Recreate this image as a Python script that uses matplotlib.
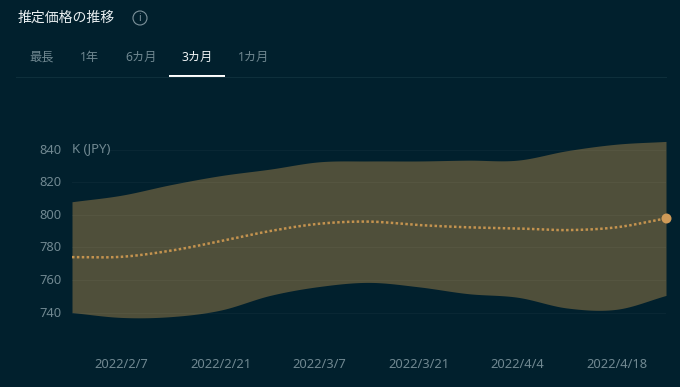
import numpy as np
import pandas as pd
import matplotlib
matplotlib.use("Agg")
import matplotlib.pyplot as plt
import matplotlib.dates as mdates
from matplotlib.patches import Circle, Rectangle
from matplotlib.transforms import ScaledTranslation

plt.rcParams['font.family'] = ['Noto Sans', 'Noto Sans CJK JP', 'DejaVu Sans']

title = "推定価格の推移"
tabs = ["最長", "1年", "6カ月", "3カ月", "1カ月"]
active_tab = "3カ月"
unit = "K (JPY)"
dates = pd.date_range("2022-01-31", "2022-04-25", freq="7D")
upper = [808, 812, 818.5, 824, 828, 832.5, 833, 833, 833.5, 833.5, 839.3, 843.3, 845]
lower = [740, 737, 737.5, 741.5, 750.5, 756, 758.5, 755.8, 751.6, 749.4, 742.8, 742, 750.5]
median = [774, 774.2, 778, 783.8, 790, 794.5, 795.8, 793.7, 792.3, 791.6, 790.6, 792.3, 797.8]
y_ticks = [740, 760, 780, 800, 820, 840]
x_ticks = ["2022-02-07", "2022-02-21", "2022-03-07", "2022-03-21", "2022-04-04", "2022-04-18"]


def smooth(x, y, n=24):
    """Catmull-Rom curve through the read points (drawing only)."""
    x = np.asarray(x, float)
    y = np.asarray(y, float)
    p = np.r_[2 * y[0] - y[1], y, 2 * y[-1] - y[-2]]
    xs, ys = [], []
    for i in range(len(y) - 1):
        t = np.linspace(0, 1, n, endpoint=False)
        a, b, c, d = p[i], p[i + 1], p[i + 2], p[i + 3]
        ys.append(0.5 * (2 * b + (c - a) * t + (2 * a - 5 * b + 4 * c - d) * t ** 2 + (3 * b - a - 3 * c + d) * t ** 3))
        xs.append(x[i] + (x[i + 1] - x[i]) * t)
    return np.r_[np.concatenate(xs), x[-1]], np.r_[np.concatenate(ys), y[-1]]


BG = "#01202d"
FILL = "#4f4f3a"
GOLD = "#c4934f"
MUTED = "#708891"
W, H = 680, 387

fig = plt.figure(figsize=(W / 100, H / 100), dpi=100, facecolor=BG)

# page furniture, in pixel coordinates
ui = fig.add_axes([0, 0, 1, 1], zorder=0)
ui.set_xlim(0, W)
ui.set_ylim(H, 0)
ui.axis("off")
ui.text(18, 18, title, color="#e8eef0", fontsize=10, va="center", ha="left")
ui.add_patch(Circle((140, 18), 7, fill=False, ec="#7d929b", lw=0.8))
ui.text(140, 18.3, "i", color="#7d929b", fontsize=7.5, va="center", ha="center")
for label, cx in zip(tabs, [42, 90, 141, 197, 254]):
    on = label == active_tab
    ui.text(cx, 57, label, color="#eef2f3" if on else MUTED, fontsize=8.8, va="center", ha="center")
ui.plot([16, 666], [77, 77], color="#0e2f3b", lw=0.8)
ui.add_patch(Rectangle((169, 75), 56, 2.2, fc="white", ec="none"))
ui.text(72, 148.5, unit, color=MUTED, fontsize=9.5, va="center", ha="left")

# chart
L, R, T, B = 72, 666, 130, 330
ax = fig.add_axes([L / W, 1 - B / H, (R - L) / W, (B - T) / H], zorder=1)
ax.patch.set_alpha(0)
num = mdates.date2num(dates)
ax.set_xlim(num[0], num[-1])
ax.set_ylim(729.3, 852)
for s in ax.spines.values():
    s.set_visible(False)

xu, yu = smooth(num, upper)
xl, yl = smooth(num, lower)
xm, ym = smooth(num, median)
ax.fill_between(xu, yl, yu, color=FILL, lw=0, zorder=2)
for v in y_ticks:
    x0 = mdates.date2num(pd.Timestamp("2022-02-05")) if v == 840 else num[0]
    ax.plot([x0, num[-1]], [v, v], color="#ffffff", alpha=0.035, lw=0.8, zorder=3)
ax.plot(xm, ym, color=GOLD, lw=1.8, ls=(0, (1, 0.95)), zorder=4)
ax.plot(num[-1], median[-1], "o", color="#cf9a57", ms=7.2, mew=0, zorder=5, clip_on=False)

ax.set_yticks(y_ticks)
ax.set_xticks(mdates.date2num(pd.to_datetime(x_ticks)))
ax.set_xticklabels([f"{d.year}/{d.month}/{d.day}" for d in pd.to_datetime(x_ticks)])
ax.tick_params(axis="both", length=0, labelcolor=MUTED, labelsize=9.3)
ax.tick_params(axis="y", pad=7.5)
ax.tick_params(axis="x", pad=20)
up = ScaledTranslation(0, 1 / 100, fig.dpi_scale_trans)
for t in ax.get_yticklabels():
    t.set_transform(t.get_transform() + up)

fig.savefig("out.png", dpi=100, facecolor=BG)
